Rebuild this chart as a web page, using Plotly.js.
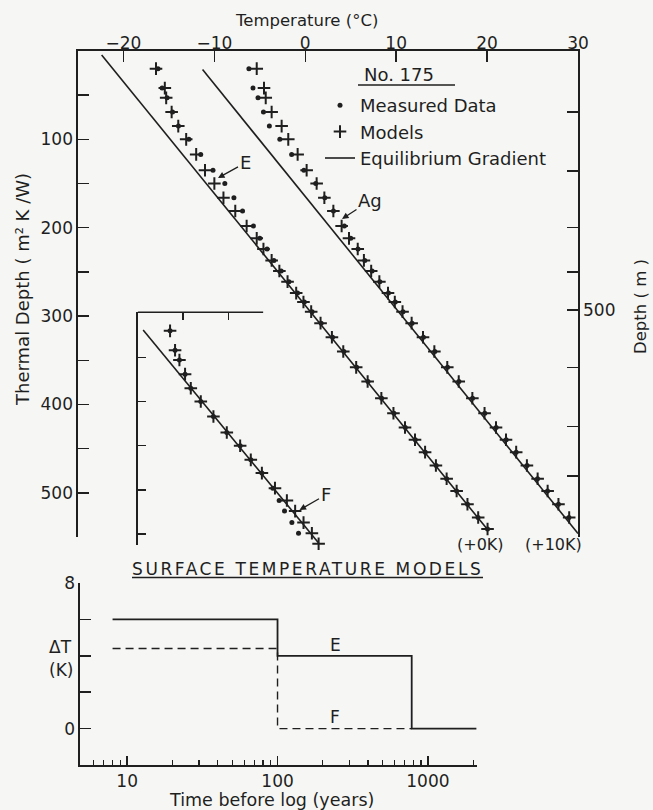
<!DOCTYPE html>
<html>
<head>
<meta charset="utf-8">
<script src="https://cdn.plot.ly/plotly-3.0.1.min.js"></script>
<style>html,body{margin:0;padding:0;background:#f6f7f4;}</style>
</head>
<body>
<div id="chart" style="width:653px;height:810px;"></div>
<script>
// ---------- DATA ----------
const SHIFT_K = 10; // right-hand profile is displaced by +10 K

// thermal depth (m^2 K/W) of the measurement levels
const depthR = [20, 42, 53, 69, 85, 100, 117, 135, 150, 166, 181, 198, 212, 224, 237, 249, 261, 274, 284, 295,
                308, 324, 340, 358, 374, 393, 410, 426, 440, 454, 469, 484, 498, 513, 528, 541];
// measured temperatures (°C)
const measuredT = [-16.2, -15.75, -15.2, -14.6, -13.95, -12.8, -11.5, -10.15, -8.85, -7.85, -6.9, -5.7, -5.0, -4.2,
                   -3.45, -2.65, -1.8, -0.85, -0.1, 0.75, 1.75, 3.0, 4.25, 5.65, 6.9, 8.4, 9.75, 11.0, 12.1, 13.2,
                   14.4, 15.55, 16.65, 17.85, 19.0, 20.05];
// model E (+0K profile)
const modelE_T = [-16.42, -15.45, -15.3, -14.7, -13.97, -13.1, -12.0, -11.03, -10.0, -9.0, -7.7, -6.45, -5.34, -4.6,
                  -3.7, -2.85, -1.95, -1.0, -0.2, 0.65, 1.68, 2.93, 4.18, 5.6, 6.86, 8.37, 9.7, 10.97, 12.07, 13.18,
                  14.37, 15.55, 16.65, 17.84, 19.02, 20.05];
// model Ag (+10K profile, values before the shift)
const modelAg_T = [-15.34, -14.54, -14.35, -13.7, -12.6, -11.87, -10.84, -9.85, -8.75, -7.9, -6.91, -6.0, -5.19, -4.23,
                   -3.55, -2.75, -1.85, -0.9, -0.15, 0.7, 1.7, 2.95, 4.2, 5.62, 6.88, 8.38, 9.72, 10.98, 12.08, 13.2,
                   14.38, 15.56, 16.66, 17.85, 19.03, 20.06];
// equilibrium gradients (end points)
const eq0R = [4.5, 541], eq0T = [-22.4, 20.0];
const eq10R = [21, 546], eq10T = [-21.3, 20.0];

// inset (model F)
const insetR = [20, 42, 53, 69, 85, 100, 117, 135, 150, 166, 181, 198, 212, 224, 237, 249, 261];
const insetMeasT = [-21.44, -20.89, -20.41, -19.79, -19.16, -18.06, -16.67, -15.2, -13.73, -12.56, -11.34, -10.13,
                    -9.44, -8.85, -8.04, -7.31];
const insetF_T = [-21.44, -20.89, -20.41, -19.79, -19.16, -18.06, -16.67, -15.2, -13.73, -12.56, -11.34, -9.9,
                  -8.59, -7.68, -6.76, -5.84, -5.1];
const insetEqR = [19, 260], insetEqT = [-24.4, -5.1];

// right axis: depth in metres and its thermal-depth position
const depthTicksM = [100, 200, 300, 400, 500, 600, 700, 800];
const depthTickR = [69, 136, 200, 250, 293, 358, 425, 481];

// surface temperature models
const timeE = [8, 100, 780, 2100], dTE = [6, 4, 0, 0];
const timeF = [8, 100, 780], dTF = [4.4, 0, 0];

// ---------- STYLE ----------
const INK = '#1f1f1f';
const BG = '#f6f7f4';
const FONT = 'DejaVu Sans';
const W = 653, H = 810;
const px = v => v / W, py = v => 1 - v / H;

const dotMarker = {symbol: 'circle', size: 5, color: INK};
const plusMarker = {symbol: 'cross-thin', size: 9, line: {color: INK, width: 2}};

const shift = arr => arr.map(v => v + SHIFT_K);

const traces = [
  {x: eq0T, y: eq0R, xaxis: 'x', yaxis: 'y', mode: 'lines', line: {color: INK, width: 1.6},
   name: 'Equilibrium Gradient', legendgroup: 'c', legendrank: 3, hoverinfo: 'skip'},
  {x: shift(eq10T), y: eq10R, xaxis: 'x', yaxis: 'y', mode: 'lines', line: {color: INK, width: 1.6},
   showlegend: false, hoverinfo: 'skip'},
  {x: measuredT, y: depthR, xaxis: 'x', yaxis: 'y', mode: 'markers', marker: dotMarker,
   name: 'Measured Data', legendgroup: 'a', legendrank: 1, cliponaxis: false},
  {x: shift(measuredT), y: depthR, xaxis: 'x', yaxis: 'y', mode: 'markers', marker: dotMarker,
   showlegend: false, cliponaxis: false},
  {x: modelE_T, y: depthR, xaxis: 'x', yaxis: 'y', mode: 'markers', marker: plusMarker,
   name: 'Models', legendgroup: 'b', legendrank: 2, cliponaxis: false},
  {x: shift(modelAg_T), y: depthR, xaxis: 'x', yaxis: 'y', mode: 'markers', marker: plusMarker,
   showlegend: false, cliponaxis: false},
  {x: depthTickR.map(() => 30), y: depthTickR, xaxis: 'x', yaxis: 'y2', mode: 'markers',
   marker: {opacity: 0}, showlegend: false, hoverinfo: 'skip'},
  // inset
  {x: insetEqT, y: insetEqR, xaxis: 'x3', yaxis: 'y3', mode: 'lines', line: {color: INK, width: 1.6},
   showlegend: false, hoverinfo: 'skip'},
  {x: insetMeasT, y: insetR.slice(0, insetMeasT.length), xaxis: 'x3', yaxis: 'y3', mode: 'markers',
   marker: dotMarker, showlegend: false, cliponaxis: false},
  {x: insetF_T, y: insetR, xaxis: 'x3', yaxis: 'y3', mode: 'markers', marker: plusMarker,
   showlegend: false, cliponaxis: false},
  // surface temperature models
  {x: timeE, y: dTE, xaxis: 'x4', yaxis: 'y4', mode: 'lines', line: {color: INK, width: 1.8, shape: 'hv'},
   showlegend: false, name: 'E'},
  {x: timeF, y: dTF, xaxis: 'x4', yaxis: 'y4', mode: 'lines',
   line: {color: INK, width: 1.4, shape: 'hv', dash: '8px,5px'}, showlegend: false, name: 'F'}
];

const axBase = {showgrid: false, zeroline: false, showline: true, linecolor: INK, linewidth: 1.6,
  ticks: 'inside', tickcolor: INK, tickwidth: 1.5, tickfont: {family: FONT, size: 17, color: INK}, fixedrange: true};

const minorTimes = [6, 7, 8, 9, 20, 30, 40, 50, 60, 70, 80, 90, 200, 300, 400, 500, 600, 700, 800, 900, 2000];

function label(text, x, y, size, extra) {
  return Object.assign({text: text, xref: 'paper', yref: 'paper', x: px(x), y: py(y), showarrow: false,
    xanchor: 'center', yanchor: 'middle', font: {size: size}}, extra || {});
}

const layout = {
  width: W, height: H,
  margin: {l: 0, r: 0, t: 0, b: 0, pad: 0},
  paper_bgcolor: BG, plot_bgcolor: 'rgba(0,0,0,0)',
  font: {family: FONT, size: 17, color: INK},
  showlegend: true,
  legend: {x: px(320), xanchor: 'left', y: py(87), yanchor: 'top', bgcolor: 'rgba(0,0,0,0)',
           borderwidth: 0, font: {family: FONT, size: 18, color: INK}, tracegroupgap: 0, traceorder: 'grouped'},
  xaxis: Object.assign({}, axBase, {domain: [px(78), px(578)], range: [-25, 30], side: 'top', anchor: 'y',
           ticklen: 11, tickvals: [-20, -10, 0, 10, 20, 30], ticklabelstandoff: -6}),
  yaxis: Object.assign({}, axBase, {domain: [py(537), py(51)], range: [550, 0], anchor: 'x', ticklen: 11,
           tickvals: [50, 100, 150, 200, 250, 300, 350, 400, 450, 500, 550],
           ticktext: ['', '100', '', '200', '', '300', '', '400', '', '500', '']}),
  yaxis2: Object.assign({}, axBase, {overlaying: 'y', side: 'right', anchor: 'x', range: [550, 0], ticklen: 11,
           tickvals: depthTickR, ticktext: depthTicksM.map(m => m === 500 ? '500' : '')}),
  xaxis3: Object.assign({}, axBase, {domain: [px(137.7), px(337.7)], range: [-25, -3], anchor: 'y3', side: 'top',
           showline: false, ticklen: 8, tickvals: [-20, -15], showticklabels: false}),
  yaxis3: Object.assign({}, axBase, {domain: [py(544.7), py(312.3)], range: [262, -1], anchor: 'x3', ticklen: 8,
           tickvals: [50, 100, 150, 200, 250], showticklabels: false}),
  xaxis4: Object.assign({}, axBase, {type: 'log', domain: [px(80), px(477)], range: [0.6866, 3.3263], anchor: 'y4',
           ticklen: 9, tickvals: [10, 100, 1000], ticktext: ['10', '100', '1000'],
           minor: {ticks: 'inside', ticklen: 5, tickwidth: 1.3, tickcolor: INK, tickmode: 'array', tickvals: minorTimes}}),
  yaxis4: Object.assign({}, axBase, {domain: [py(765), py(583)], range: [-2, 8], anchor: 'x4', ticklen: 11,
           tickvals: [0, 2, 4, 6, 8], ticktext: ['0', '', '', '', '8']}),
  shapes: [
    {type: 'line', xref: 'paper', yref: 'y domain', x0: px(77.2), x1: px(77.2), y0: 0, y1: 1, line: {color: INK, width: 1.6}},
    {type: 'line', xref: 'x3', yref: 'y3 domain', x0: -25, x1: -11.2, y0: 1, y1: 1, line: {color: INK, width: 1.6}},
    {type: 'line', xref: 'paper', yref: 'paper', x0: px(358), x1: px(455), y0: py(85), y1: py(85), line: {color: INK, width: 1.5}},
    {type: 'line', xref: 'paper', yref: 'paper', x0: px(132), x1: px(483), y0: py(577.5), y1: py(577.5), line: {color: INK, width: 1.5}}
  ],
  annotations: [
    label('Temperature (°C)', 306, 20, 16.5),
    label('Thermal Depth ( m² K /W)', 22, 290, 18, {textangle: -90}),
    label('Depth ( m )', 640, 307, 16.5, {textangle: -90}),
    label('No. 175', 399, 75, 18),
    label('(+0K)', 480, 544, 16),
    label('(+10K)', 553, 544, 16),
    {text: 'E', xref: 'x', yref: 'y', x: -9.6, y: 143.7, ax: 27, ay: -15, showarrow: true,
     arrowhead: 2, arrowsize: 1, arrowwidth: 1.3, arrowcolor: INK, font: {size: 18}},
    {text: 'Ag', xref: 'x', yref: 'y', x: 4.04, y: 190, ax: 28, ay: -18, showarrow: true,
     arrowhead: 2, arrowsize: 1, arrowwidth: 1.3, arrowcolor: INK, font: {size: 18}},
    {text: 'F', xref: 'x3', yref: 'y3', x: -7.2, y: 222.7, ax: 26, ay: -15, showarrow: true,
     arrowhead: 2, arrowsize: 1, arrowwidth: 1.3, arrowcolor: INK, font: {size: 18}},
    label('<span style="letter-spacing:2.6px">SURFACE TEMPERATURE MODELS</span>', 307.5, 568.5, 17),
    label('E', 335, 645, 17),
    label('F', 335, 717, 17),
    label('ΔT', 60, 647, 17),
    label('(K)', 61, 670, 17),
    label('Time before log (years)', 271, 800, 17.5)
  ]
};

Plotly.newPlot('chart', traces, layout, {displayModeBar: false, staticPlot: true});
</script>
</body>
</html>
